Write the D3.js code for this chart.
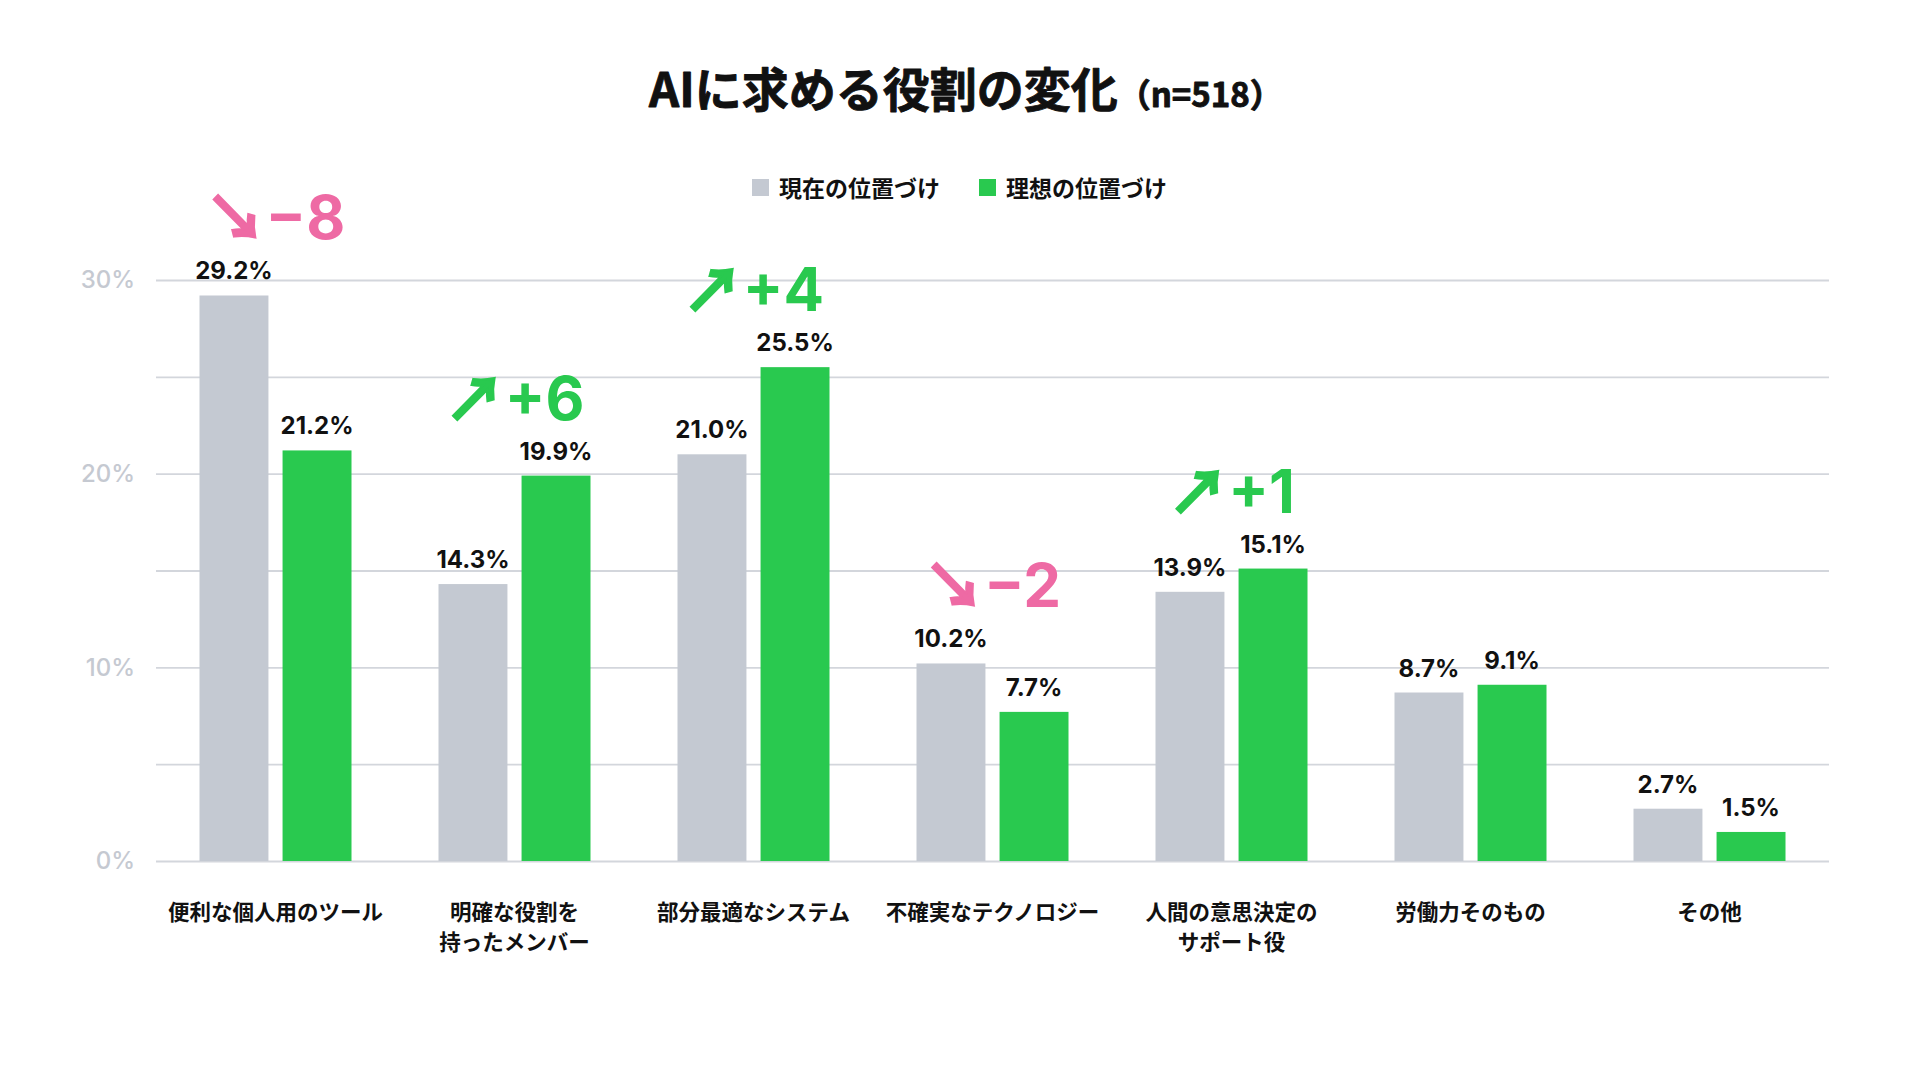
<!DOCTYPE html>
<html lang="ja">
<head>
<meta charset="utf-8">
<script src="https://cdn.jsdelivr.net/npm/d3@7/dist/d3.min.js"></script>
<style>
  html, body { margin: 0; padding: 0; background: #ffffff; }
  svg { display: block; }
</style>
</head>
<body>
<svg id="chart" width="1920" height="1080"></svg>
<script>
// ---- data ----
const categories = [
  "便利な個人用のツール",
  "明確な役割を\n持ったメンバー",
  "部分最適なシステム",
  "不確実なテクノロジー",
  "人間の意思決定の\nサポート役",
  "労働力そのもの",
  "その他"
];
const seriesNames = ["現在の位置づけ", "理想の位置づけ"];
const currentValues = [29.2, 14.3, 21.0, 10.2, 13.9, 8.7, 2.7];
const idealValues   = [21.2, 19.9, 25.5, 7.7, 15.1, 9.1, 1.5];
const changeLabels  = ["−8", "+6", "+4", "−2", "+1", null, null];
const gridTicks  = [0, 5, 10, 15, 20, 25, 30];
const labelTicks = [0, 10, 20, 30];
const titleMain = "AIに求める役割の変化";
const titleSub  = "（n=518）";

// ---- styles ----
const colors = { "現在の位置づけ": "#c4c9d2", "理想の位置づけ": "#29c94f" };
const downColor = "#ee6aa4";
const upColor = "#29c94f";
const jpFont = "'Noto Sans CJK JP', 'Noto Sans', sans-serif";
const numFont = "Inter, 'Noto Sans', sans-serif";

const svg = d3.select("#chart");

const x = d3.scaleBand().domain(categories).range([156, 1829]).paddingInner(0).paddingOuter(0);
const bw = x.bandwidth();
const xs = d3.scaleBand().domain(seriesNames).range([bw / 2 - 76, bw / 2 + 76]).paddingInner(0.17);
const y = d3.scaleLinear().domain([0, 30]).range([861, 280]);

const rows = categories.map((c, i) => ({
  cat: c,
  values: [
    { s: seriesNames[0], v: currentValues[i] },
    { s: seriesNames[1], v: idealValues[i] }
  ],
  change: changeLabels[i]
}));

// title
const title = svg.append("text")
  .attr("x", 649).attr("y", 107)
  .attr("font-family", jpFont).attr("font-weight", 700)
  .attr("fill", "#111").attr("stroke", "#111").attr("stroke-width", 0.9)
  .attr("stroke-linejoin", "round");
title.append("tspan").attr("font-size", 47).text(titleMain);
title.append("tspan").attr("font-size", 33).text(titleSub);

// legend
const legendItems = [
  { s: seriesNames[0], sx: 752, tx: 779 },
  { s: seriesNames[1], sx: 979, tx: 1006 }
];
const lg = svg.append("g");
lg.selectAll("rect").data(legendItems).join("rect")
  .attr("x", d => d.sx).attr("y", 179).attr("width", 17).attr("height", 17)
  .attr("fill", d => colors[d.s]);
lg.selectAll("text").data(legendItems).join("text")
  .attr("x", d => d.tx).attr("y", 187)
  .attr("dominant-baseline", "central")
  .attr("font-family", jpFont).attr("font-weight", 700).attr("font-size", 23)
  .attr("fill", "#111")
  .text(d => d.s);

// gridlines
const grid = svg.append("g")
  .attr("transform", `translate(156,0)`)
  .call(d3.axisLeft(y).tickValues(gridTicks).tickSize(-(1829 - 156)).tickFormat(""));
grid.select(".domain").remove();
grid.selectAll(".tick line").attr("stroke", "#d3d6dc").attr("stroke-width", 1.8);

// y labels
const yAxis = svg.append("g").attr("transform", "translate(135,0)")
  .call(d3.axisLeft(y).tickValues(labelTicks).tickSize(0).tickPadding(0).tickFormat(d => d + "%"));
yAxis.select(".domain").remove();
yAxis.selectAll(".tick text")
  .attr("font-family", numFont).attr("font-weight", 500).attr("font-size", 24)
  .attr("fill", "#c5c9d1").attr("dy", "0.33em");

// bars
const groups = svg.append("g").selectAll("g").data(rows).join("g")
  .attr("transform", d => `translate(${x(d.cat)},0)`);

groups.selectAll("rect").data(d => d.values).join("rect")
  .attr("x", d => xs(d.s))
  .attr("y", d => y(d.v))
  .attr("width", xs.bandwidth())
  .attr("height", d => y(0) - y(d.v))
  .attr("fill", d => colors[d.s]);

groups.selectAll("text.val").data(d => d.values).join("text")
  .attr("class", "val")
  .attr("x", d => xs(d.s) + xs.bandwidth() / 2)
  .attr("y", d => y(d.v) - 16)
  .attr("text-anchor", "middle")
  .attr("font-family", numFont).attr("font-weight", 700).attr("font-size", 24)
  .attr("fill", "#111")
  .text(d => d3.format(".1f")(d.v) + "%");

// change annotations
const ann = groups.filter(d => d.change).append("text")
  .attr("x", bw / 2)
  .attr("y", d => y(d3.max(d.values, v => v.v)) - 16 - 40)
  .attr("text-anchor", "middle")
  .attr("font-weight", 700)
  .attr("fill", d => d.change.startsWith("+") ? upColor : downColor);
ann.append("tspan")
  .attr("font-family", jpFont).attr("font-size", 60)
  .attr("dy", 1)
  .attr("stroke", d => d.change.startsWith("+") ? upColor : downColor)
  .attr("stroke-width", 2.2).attr("stroke-linejoin", "miter")
  .text(d => d.change.startsWith("+") ? "↗" : "↘");
ann.append("tspan")
  .attr("font-family", numFont).attr("font-size", 60)
  .attr("dy", -1)
  .text(d => d.change);

// category labels
const catText = groups.append("text")
  .attr("text-anchor", "middle")
  .attr("font-family", jpFont).attr("font-weight", 700).attr("font-size", 21.5)
  .attr("fill", "#111");
catText.selectAll("tspan").data(d => d.cat.split("\n")).join("tspan")
  .attr("x", bw / 2)
  .attr("y", (d, i) => 910 + i * 30)
  .attr("dominant-baseline", "central")
  .text(d => d);
</script>
</body>
</html>
